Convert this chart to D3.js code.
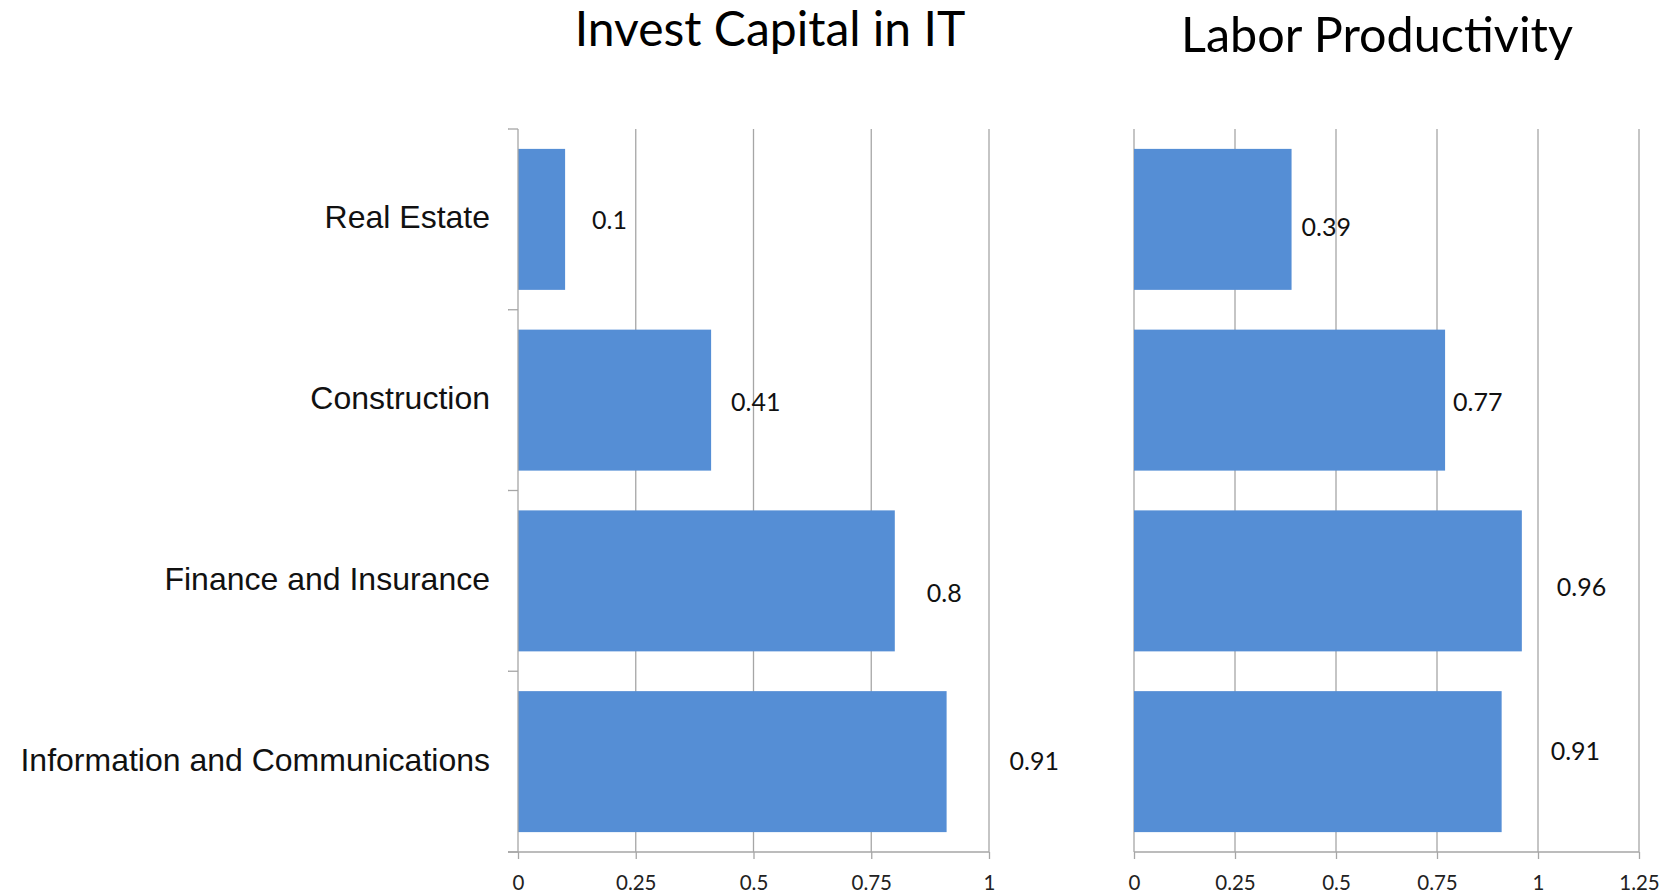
<!doctype html>
<html lang="en">

<head>
    <meta charset="UTF-8" />
    <script src="https://d3js.org/d3.v7.min.js"></script>
    <title>Invest Capital in IT / Labor Productivity</title>
    <style>
        body { margin: 0; background: #fff; }
    </style>
</head>

<body>
    <div id="chart"></div>
    <script>
        // Data
        const categories = ["Real Estate", "Construction", "Finance and Insurance", "Information and Communications"]
        const investCapital = [0.1, 0.41, 0.8, 0.91]
        const laborProductivity = [0.39, 0.77, 0.96, 0.91]
        const leftTicks = [0, 0.25, 0.5, 0.75, 1]
        const rightTicks = [0, 0.25, 0.5, 0.75, 1, 1.25]

        // hand-placed label nudges (px) as in the original slide
        const leftLabelShift = [[27, 1], [20, 2], [32, 12], [63, -1]]
        const rightLabelShift = [[10, 8], [8, 2], [35, 6], [49, -11]]

        const W = 1668, H = 894
        const plotTop = 129, plotBottom = 852
        const barColor = "#558ed5"
        const gridColor = "#a6a6a6"

        const svg = d3.select("#chart").append("svg")
            .attr("width", W)
            .attr("height", H)

        const y = d3.scaleBand()
            .domain(categories)
            .range([plotTop, plotBottom])
            .paddingInner(0.22)
            .paddingOuter(0.11)

        function drawPanel(opts) {
            const x = d3.scaleLinear().domain(opts.domain).range(opts.range)
            const g = svg.append("g")

            // gridlines
            g.selectAll(".grid")
                .data(opts.ticks.filter(t => opts.gridAtZero || t > 0))
                .join("line")
                .attr("x1", d => x(d)).attr("x2", d => x(d))
                .attr("y1", plotTop).attr("y2", plotBottom)
                .attr("stroke", gridColor)
                .attr("stroke-width", 1.3)

            // bottom axis
            const xAxis = g.append("g")
                .attr("transform", `translate(0,${plotBottom})`)
                .call(d3.axisBottom(x)
                    .tickValues(opts.ticks)
                    .tickSize(7)
                    .tickPadding(16)
                    .tickFormat(d => String(d)))
            xAxis.select(".domain").remove()
            xAxis.selectAll(".tick line").attr("stroke", gridColor).attr("stroke-width", 1.3)
            xAxis.selectAll(".tick text")
                .attr("font-family", "Lato, sans-serif")
                .attr("font-size", 20.5)
                .attr("fill", "#222")
            xAxis.append("line")
                .attr("x1", opts.axisStart).attr("x2", x(opts.domain[1]))
                .attr("stroke", gridColor).attr("stroke-width", 1.3)

            // bars
            g.selectAll(".bar")
                .data(opts.values)
                .join("rect")
                .attr("x", x(0))
                .attr("y", (d, i) => y(categories[i]))
                .attr("width", d => x(d) - x(0))
                .attr("height", y.bandwidth())
                .attr("fill", barColor)

            // value labels
            g.selectAll(".val")
                .data(opts.values)
                .join("text")
                .attr("x", (d, i) => x(d) + opts.shift[i][0])
                .attr("y", (d, i) => y(categories[i]) + y.bandwidth() / 2 + opts.shift[i][1])
                .attr("dy", "0.36em")
                .attr("font-family", "Lato, sans-serif")
                .attr("font-size", 25)
                .attr("fill", "#111")
                .text(d => d)

            // title
            svg.append("text")
                .attr("x", opts.titleX)
                .attr("y", opts.titleY)
                .attr("text-anchor", "middle")
                .attr("font-family", "Lato, sans-serif")
                .attr("font-size", opts.titleSize)
                .attr("fill", "#000")
                .text(opts.title)

            return x
        }

        const xl = drawPanel({
            domain: [0, 1], range: [518, 989], ticks: leftTicks,
            values: investCapital, shift: leftLabelShift, gridAtZero: false,
            axisStart: 508, title: "Invest Capital in IT", titleX: 770, titleY: 46, titleSize: 48
        })

        drawPanel({
            domain: [0, 1.25], range: [1134, 1639], ticks: rightTicks,
            values: laborProductivity, shift: rightLabelShift, gridAtZero: true,
            axisStart: 1134, title: "Labor Productivity", titleX: 1377, titleY: 52, titleSize: 48.5
        })

        // left category axis with band ticks
        const yAxis = svg.append("g")
            .attr("transform", `translate(${xl(0)},0)`)
        yAxis.append("line")
            .attr("y1", plotTop).attr("y2", plotBottom)
            .attr("stroke", gridColor).attr("stroke-width", 1.3)
        const bounds = categories.map(c => y(c) - y.step() * y.paddingInner() / 2)
        bounds.push(plotBottom)
        yAxis.selectAll(".btick")
            .data(bounds)
            .join("line")
            .attr("x1", -10).attr("x2", 0)
            .attr("y1", d => d).attr("y2", d => d)
            .attr("stroke", gridColor).attr("stroke-width", 1.3)
        yAxis.selectAll(".cat")
            .data(categories)
            .join("text")
            .attr("x", -28)
            .attr("y", d => y(d) + y.bandwidth() / 2 + 9)
            .attr("text-anchor", "end")
            .attr("font-family", "'Liberation Sans', Arial, sans-serif")
            .attr("font-size", 32)
            .attr("fill", "#111")
            .text(d => d)
    </script>
</body>

</html>
